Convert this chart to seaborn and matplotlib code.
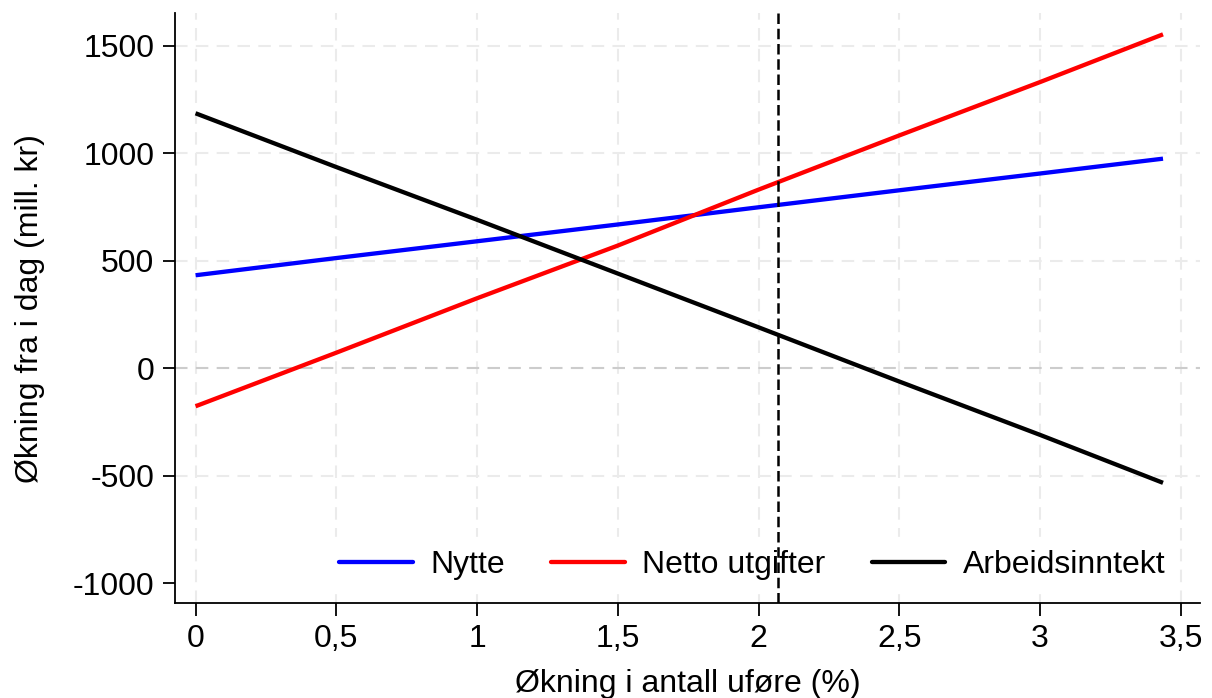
import pandas as pd
import matplotlib
matplotlib.use("Agg")
import matplotlib.pyplot as plt
import seaborn as sns

# values
x_vals = [0, 0.5, 1, 1.5, 2, 2.5, 3, 3.437]
nytte = [432, 512, 590, 668, 748, 827, 905, 974]
netto_utgifter = [-177, 72, 325, 570, 830, 1082, 1330, 1552]
arbeidsinntekt = [1185, 935, 690, 440, 190, -62, -310, -533]
series_names = ["Nytte", "Netto utgifter", "Arbeidsinntekt"]
series_colors = ["#0000ff", "#ff0000", "#000000"]
cutoff = 2.07

x_ticks = [0, 0.5, 1, 1.5, 2, 2.5, 3, 3.5]
x_ticklabels = ["0", "0,5", "1", "1,5", "2", "2,5", "3", "3,5"]
y_ticks = [-1000, -500, 0, 500, 1000, 1500]

df = pd.DataFrame({
    "x": x_vals * 3,
    "y": nytte + netto_utgifter + arbeidsinntekt,
    "serie": [n for n in series_names for _ in x_vals],
})

sns.set_style("white")
plt.rcParams["font.family"] = ["Liberation Sans", "DejaVu Sans"]
plt.rcParams["axes.unicode_minus"] = False
plt.rcParams["text.color"] = "black"
plt.rcParams["axes.labelcolor"] = "black"
plt.rcParams["xtick.color"] = "black"
plt.rcParams["ytick.color"] = "black"

fig = plt.figure(figsize=(12.12, 6.98), dpi=100)
ax = fig.add_axes([0.1444, 0.136, 0.8456, 0.845])

# grid first so the lines sit on top
ax.set_axisbelow(True)
ax.grid(True, color="#ebebeb", linewidth=1.5, linestyle=(0, (6, 4)))

sns.lineplot(data=df, x="x", y="y", hue="serie", palette=series_colors,
             hue_order=series_names, linewidth=3.1, ax=ax, legend=False)
for line in ax.get_lines():
    line.set_solid_capstyle("butt")

# vertical reference line drawn above the legend box
ax.axvline(cutoff, color="black", linewidth=1.8, linestyle=(0, (4.2, 1.9)),
           zorder=6)

ax.set_xlim(-0.073, 3.568)
ax.set_ylim(-1092, 1650)
ax.set_xticks(x_ticks)
ax.set_xticklabels(x_ticklabels)
ax.set_yticks(y_ticks)

# no gridline at the bottom tick, darker line at zero
ygrid = ax.yaxis.get_gridlines()
ygrid[0].set_visible(False)
ygrid[2].set_color("#cccccc")

for side in ["top", "right"]:
    ax.spines[side].set_visible(False)
for side in ["left", "bottom"]:
    ax.spines[side].set_color("black")
    ax.spines[side].set_linewidth(1.3)

ax.tick_params(axis="both", direction="out", length=9, width=1.3,
               color="black", labelcolor="black", labelsize=23, pad=6,
               left=True, bottom=True)

ax.set_xlabel("Økning i antall uføre (%)", fontsize=23, labelpad=11)
ax.set_ylabel("Økning fra i dag (mill. kr)", fontsize=23, labelpad=20)

handles = [plt.Line2D([], [], color=c, linewidth=3.1) for c in series_colors]
leg = ax.legend(handles, series_names, loc="lower right", ncol=3,
                fontsize=23, frameon=True, facecolor="white", edgecolor="white",
                framealpha=1, fancybox=False, handlelength=2.3,
                handletextpad=0.55, columnspacing=1.45,
                bbox_to_anchor=(0.982, 0.012), borderaxespad=0.1)
for t in leg.get_texts():
    t.set_color("black")

fig.savefig("out.png", dpi=100)
